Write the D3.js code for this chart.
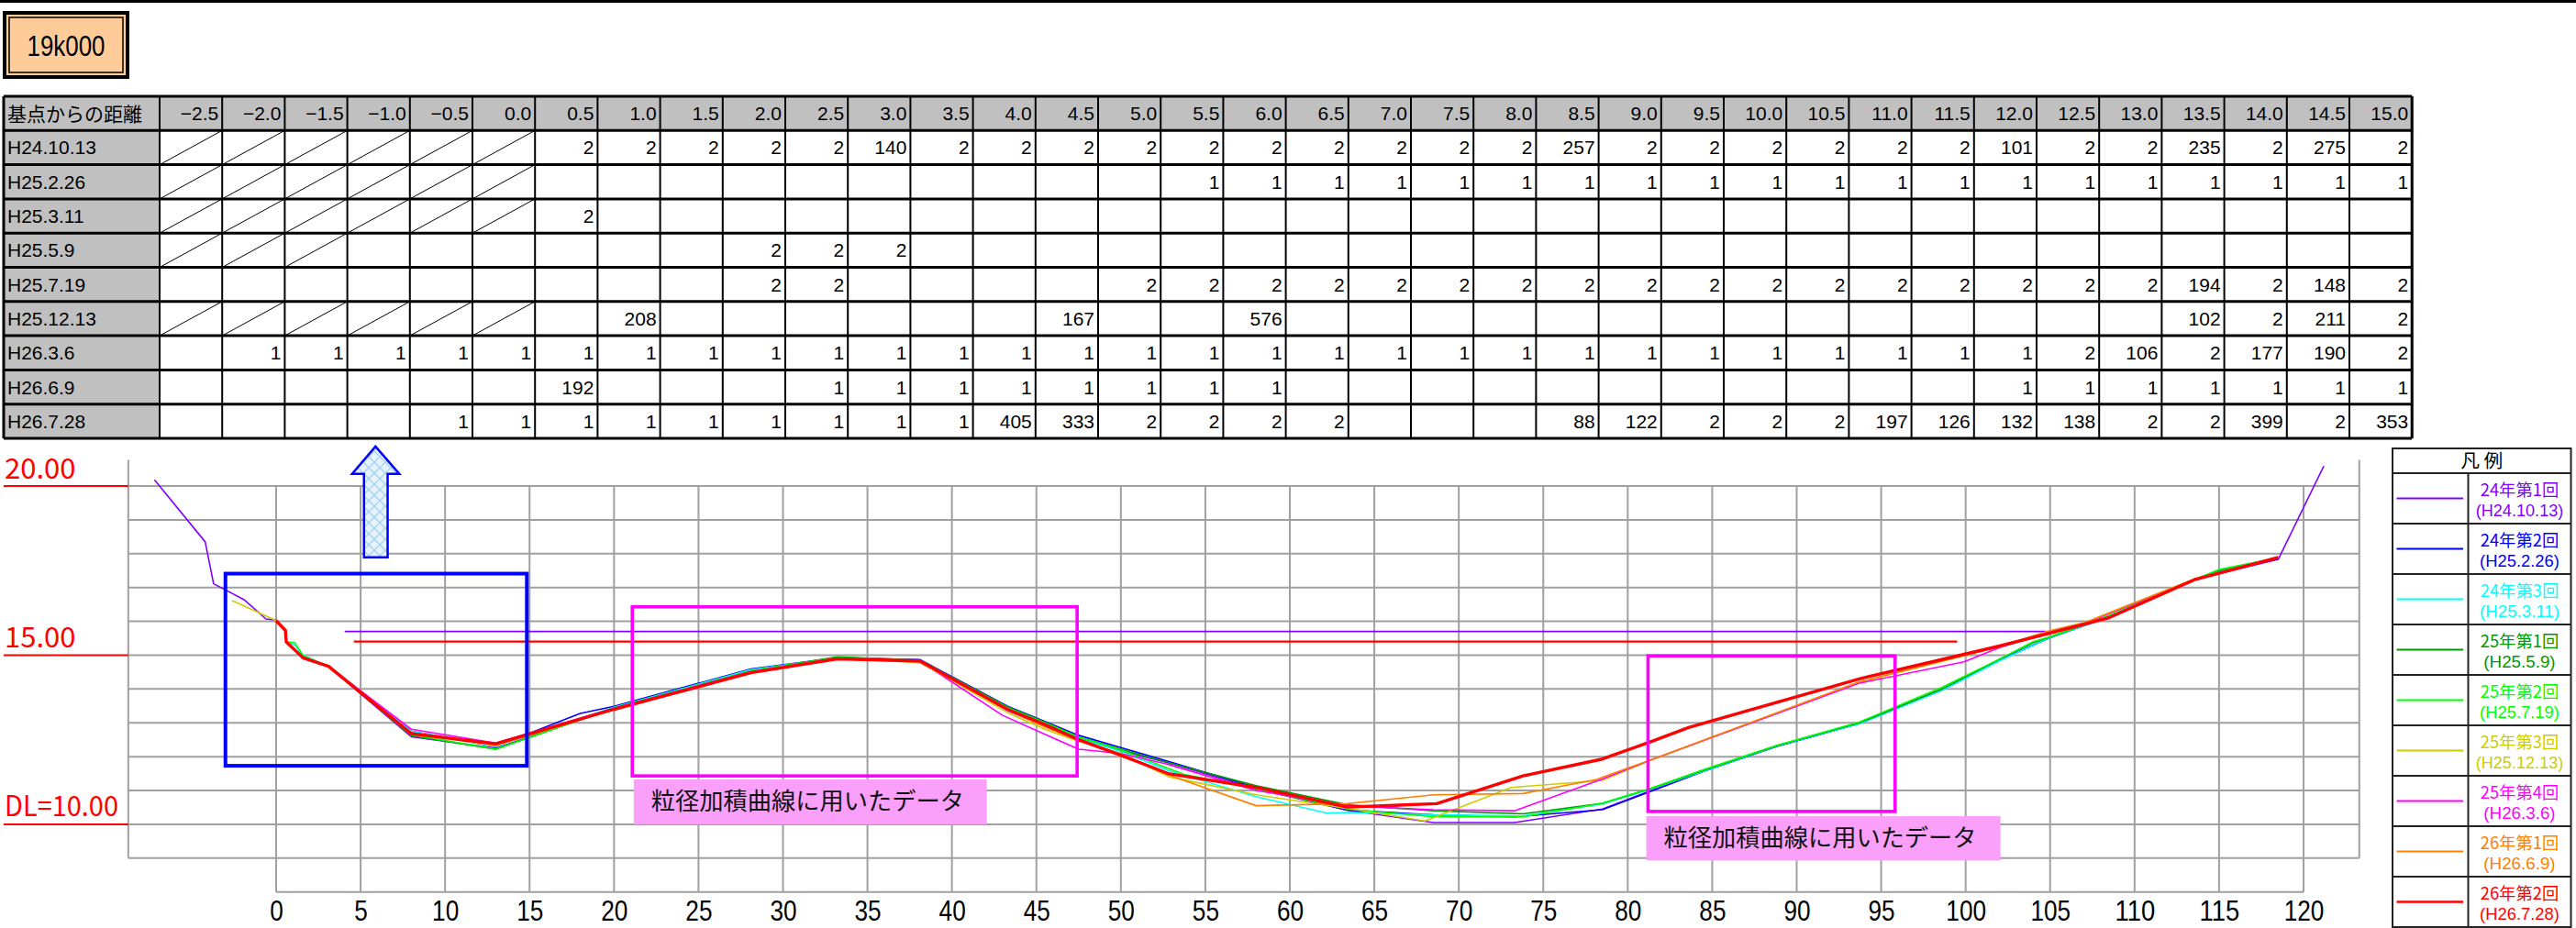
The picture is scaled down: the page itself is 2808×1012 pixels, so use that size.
<!DOCTYPE html>
<html>
<head>
<meta charset="utf-8">
<script src="https://cdn.jsdelivr.net/npm/d3@7"></script>
<style>
  body { margin: 0; background: #fff; }
  svg { display: block; }
</style>
</head>
<body>
<script>
'use strict'

// ------ Table data: distance from reference point / survey dates ------
const distLabels = ['−2.5', '−2.0', '−1.5', '−1.0', '−0.5', '0.0', '0.5', '1.0', '1.5', '2.0', '2.5', '3.0',
  '3.5', '4.0', '4.5', '5.0', '5.5', '6.0', '6.5', '7.0', '7.5', '8.0', '8.5', '9.0', '9.5', '10.0', '10.5',
  '11.0', '11.5', '12.0', '12.5', '13.0', '13.5', '14.0', '14.5', '15.0']
const surveyDates = ['H24.10.13', 'H25.2.26', 'H25.3.11', 'H25.5.9', 'H25.7.19', 'H25.12.13', 'H26.3.6', 'H26.6.9', 'H26.7.28']
// x = slashed cell, . = blank
const tableRows = [
  'x x x x x x 2 2 2 2 2 140 2 2 2 2 2 2 2 2 2 2 257 2 2 2 2 2 2 101 2 2 235 2 275 2',
  'x x x x x x . . . . . . . . . . 1 1 1 1 1 1 1 1 1 1 1 1 1 1 1 1 1 1 1 1',
  'x x x x x x 2 . . . . . . . . . . . . . . . . . . . . . . . . . . . . .',
  'x x x . . . . . . 2 2 2 . . . . . . . . . . . . . . . . . . . . . . . .',
  '. . . . . . . . . 2 2 . . . . 2 2 2 2 2 2 2 2 2 2 2 2 2 2 2 2 2 194 2 148 2',
  'x x x x x x . 208 . . . . . . 167 . . 576 . . . . . . . . . . . . . . 102 2 211 2',
  '. 1 1 1 1 1 1 1 1 1 1 1 1 1 1 1 1 1 1 1 1 1 1 1 1 1 1 1 1 1 2 106 2 177 190 2',
  '. . . . . . 192 . . . 1 1 1 1 1 1 1 1 . . . . . . . . . . . 1 1 1 1 1 1 1',
  '. . . . 1 1 1 1 1 1 1 1 1 405 333 2 2 2 2 . . . 88 122 2 2 2 197 126 132 138 2 2 399 2 353'
]

// ------ Cross section profiles [distance (m), elevation (m)] ------
const h241013 = [[-7.2, 20.18], [-4.2, 18.35], [-3.7, 17.11], [-1.9, 16.64], [-0.6, 16.07], [0, 16.04], [0.55, 15.75],
  [0.6, 15.4], [1.6, 14.9], [3.1, 14.66], [8.0, 12.59], [13.0, 12.25], [20.0, 13.43], [28.1, 14.53], [33.2, 14.92],
  [38.1, 14.85], [43.3, 13.36], [45.5, 12.9], [47.5, 12.55], [50.0, 12.17], [52.8, 11.82], [58.0, 11.05], [63.4, 10.42],
  [68.5, 10.05], [73.3, 10.05], [78.5, 10.45], [81.4, 11.0], [84.5, 11.57], [88.8, 12.3], [93.7, 12.98], [98.6, 13.97],
  [102.0, 14.85], [104.9, 15.5], [108.5, 16.14], [113.6, 17.24], [118.5, 17.83], [121.2, 20.59]]
const h250226 = [[0, 16.02], [0.55, 15.73], [0.6, 15.39], [1.6, 14.95], [3.1, 14.67], [8.0, 12.75], [13.0, 12.3],
  [18.0, 13.28], [20.0, 13.49], [28.1, 14.59], [33.2, 14.92], [38.1, 14.87], [43.3, 13.49], [45.5, 13.04], [47.5, 12.63],
  [50.0, 12.27], [52.8, 11.86], [58.0, 11.09], [63.4, 10.42], [68.5, 10.28], [73.3, 10.22], [78.5, 10.43], [81.4, 10.98],
  [84.5, 11.57], [88.8, 12.3], [93.7, 12.98], [98.6, 13.97], [102.0, 14.85], [104.9, 15.5], [108.5, 16.14],
  [113.6, 17.24], [115.0, 17.48], [118.5, 17.85]]
const h250311 = [[0, 16.02], [0.55, 15.73], [0.6, 15.39], [1.1, 15.3], [1.6, 15.0], [3.1, 14.67], [8.0, 12.75],
  [13.0, 12.3], [20.0, 13.46], [28.1, 14.57], [33.2, 14.92], [38.1, 14.85], [43.3, 13.42], [45.5, 12.95], [47.5, 12.55],
  [50.0, 12.15], [52.8, 11.59], [58.0, 10.82], [62.2, 10.33], [63.4, 10.35], [68.5, 10.28], [73.8, 10.25], [78.5, 10.6],
  [81.4, 11.05], [84.5, 11.57], [88.8, 12.31], [93.7, 12.97], [98.6, 13.96], [102.0, 14.83], [104.9, 15.5],
  [108.5, 16.14], [113.6, 17.24], [115.0, 17.5], [118.5, 17.87]]
const h250509 = [[0, 16.02], [0.55, 15.73], [0.6, 15.39], [1.6, 14.92], [3.1, 14.67], [8.0, 12.62], [13.0, 12.22],
  [20.0, 13.44], [28.1, 14.53], [33.2, 14.95], [38.1, 14.85], [43.3, 13.47], [45.5, 13.02], [47.5, 12.58], [50.0, 12.22],
  [52.8, 11.82], [58.0, 11.14], [63.4, 10.58], [68.5, 10.4], [73.8, 10.31], [78.5, 10.62], [81.4, 11.06], [84.5, 11.6],
  [88.8, 12.32], [93.7, 13.0], [98.6, 14.0], [102.0, 14.88], [104.0, 15.37], [104.9, 15.52], [108.5, 16.16],
  [113.6, 17.24], [115.0, 17.51], [118.5, 17.88]]
const h250719 = [[0, 16.02], [0.55, 15.73], [0.6, 15.39], [1.1, 15.37], [1.6, 14.98], [3.1, 14.67], [8.0, 12.65],
  [13.0, 12.22], [20.0, 13.44], [28.1, 14.54], [33.2, 14.93], [38.1, 14.84], [43.3, 13.45], [45.5, 13.0], [47.5, 12.58],
  [50.0, 12.2], [53.7, 11.48], [58.0, 11.05], [63.4, 10.45], [68.5, 10.22], [73.8, 10.22], [78.5, 10.62], [81.4, 11.07],
  [84.5, 11.62], [88.8, 12.33], [93.7, 13.02], [98.6, 14.05], [102.0, 14.88], [104.0, 15.4], [104.9, 15.53],
  [108.5, 16.17], [113.6, 17.25], [115.0, 17.53], [118.5, 17.88]]
const h251213 = [[-2.6, 16.61], [0, 16.02], [0.55, 15.73], [0.6, 15.39], [1.6, 14.92], [3.1, 14.67], [8.0, 12.7],
  [13.0, 12.33], [20.0, 13.41], [28.1, 14.5], [33.2, 14.9], [38.1, 14.8], [43.3, 13.3], [45.5, 12.81], [47.5, 12.45],
  [50.0, 12.1], [52.8, 11.41], [58.0, 10.87], [63.4, 10.47], [68.0, 10.1], [73.1, 11.09], [78.5, 11.3], [81.4, 11.9],
  [93.7, 14.19], [102.0, 15.25], [104.9, 15.71], [107.1, 15.97], [113.6, 17.26], [118.5, 17.9]]
const h260306 = [[0, 16.02], [0.55, 15.73], [0.6, 15.39], [1.6, 14.92], [3.1, 14.67], [8.0, 12.81], [13.0, 12.4],
  [20.0, 13.43], [28.1, 14.52], [33.2, 14.91], [38.1, 14.83], [43.0, 13.22], [45.5, 12.66], [47.5, 12.22], [50.0, 12.09],
  [52.8, 11.77], [58.0, 11.0], [63.4, 10.55], [68.5, 10.43], [73.3, 10.4], [78.5, 11.34], [81.4, 11.91], [93.7, 14.17],
  [99.9, 14.8], [102.0, 15.22], [104.9, 15.68], [107.1, 15.95], [113.6, 17.24], [118.5, 17.88]]
const h260609 = [[0, 16.02], [0.55, 15.73], [0.6, 15.39], [1.6, 14.92], [3.1, 14.67], [8.0, 12.7], [13.0, 12.33],
  [20.0, 13.4], [28.1, 14.5], [33.2, 14.9], [38.1, 14.78], [43.3, 13.38], [45.5, 12.88], [47.5, 12.48], [50.0, 12.08],
  [52.8, 11.46], [58.0, 10.55], [63.4, 10.61], [68.5, 10.87], [73.8, 10.91], [78.1, 11.32], [81.4, 11.91], [93.7, 14.21],
  [102.0, 15.25], [104.9, 15.71], [107.1, 15.97], [113.6, 17.26], [118.5, 17.9]]
const h260728 = [[0, 16.02], [0.55, 15.73], [0.6, 15.39], [1.6, 14.92], [3.1, 14.67], [8.0, 12.68], [13.0, 12.38],
  [20.0, 13.4], [28.1, 14.48], [33.2, 14.89], [38.1, 14.83], [43.3, 13.4], [45.5, 12.95], [47.5, 12.5], [50.0, 12.04],
  [52.8, 11.5], [58.0, 11.09], [63.4, 10.51], [68.7, 10.61], [73.8, 11.43], [78.5, 11.93], [81.4, 12.45], [83.6, 12.86],
  [93.7, 14.3], [102.0, 15.27], [104.9, 15.64], [108.5, 16.11], [113.6, 17.24], [115.0, 17.42], [118.5, 17.89]]

const profiles = [h241013, h250226, h250311, h250509, h250719, h251213, h260306, h260609, h260728]
const seriesColors = ['#8000ff', '#0000ff', '#00ffff', '#009900', '#00ff00', '#cccc00', '#ff00ff', '#ff8000', '#ff0000']
const legendTitles = ['24年第1回', '24年第2回', '24年第3回', '25年第1回', '25年第2回', '25年第3回', '25年第4回', '26年第1回', '26年第2回']

// water level lines [from, to, elevation]
const waterLevels = [[4.06, 104.8, 15.70], [4.6, 99.5, 15.40]]
const waterColors = ['#8000ff', '#ff0000']

// axis ticks and labels
const xTicks = d3.range(0, 121, 5)
const yGridValues = d3.range(9, 21, 1)
const yLabelValues = [20, 15, 10]
const yLabelTexts = ['20.00', '15.00', 'DL=10.00']

// annotation boxes [x0, x1, y0, y1] in chart units
const blueBox = [-3.0, 14.84, 11.73, 17.41]
const pinkBoxes = [[21.08, 47.41, 11.43, 16.43], [81.2, 95.82, 10.38, 14.98]]
const noteBoxes = [[21.17, 42.06, 10.0, 11.33], [81.1, 102.06, 8.93, 10.24]]
const noteText = '粒径加積曲線に用いたデータ'

const W = 2808
const H = 1012
const JP = '"Noto Sans CJK JP", "Noto Sans", sans-serif'
const LAT = '"Liberation Sans", Arial, sans-serif'

// width of a string in a half-width/full-width gothic face
function gothicLen (s, fs) {
  let w = 0
  for (const ch of s) w += ch.charCodeAt(0) < 256 ? 0.5 : 1
  return w * fs
}

const svg = d3.select('body').append('svg')
  .attr('width', W).attr('height', H)
  .attr('font-family', LAT)

// ------ top rule and title box ------
svg.append('line').attr('x1', 0).attr('x2', W).attr('y1', 1.5).attr('y2', 1.5)
  .attr('stroke', '#000').attr('stroke-width', 3)

svg.append('rect').attr('x', 5).attr('y', 14).attr('width', 134).attr('height', 70)
  .attr('fill', '#ffcc99').attr('stroke', '#000').attr('stroke-width', 4)
svg.append('rect').attr('x', 10).attr('y', 19).attr('width', 124).attr('height', 60)
  .attr('fill', 'none').attr('stroke', '#000').attr('stroke-width', 1.5)
svg.append('text').attr('x', 72).attr('y', 61).attr('text-anchor', 'middle')
  .attr('font-size', 32).attr('textLength', 85).attr('lengthAdjust', 'spacingAndGlyphs')
  .text('19k000')

// ------ data table ------
const tLeft = 4
const tTop = 105
const rowH = 37.3
const headW = 170
const colW = 68.2
const tRight = tLeft + headW + distLabels.length * colW
const nRows = surveyDates.length + 1
const table = svg.append('g')

table.append('rect').attr('x', tLeft).attr('y', tTop).attr('width', tRight - tLeft).attr('height', rowH)
  .attr('fill', '#c0c0c0')
table.append('rect').attr('x', tLeft).attr('y', tTop).attr('width', headW).attr('height', nRows * rowH)
  .attr('fill', '#c0c0c0')

const colX = i => tLeft + headW + i * colW
const rowY = r => tTop + r * rowH

table.append('text').attr('x', tLeft + 4).attr('y', rowY(0) + rowH / 2 + 8)
  .attr('font-family', JP).attr('font-size', 21).text('基点からの距離')

table.selectAll('text.dist').data(distLabels).join('text')
  .attr('class', 'dist')
  .attr('x', (d, i) => colX(i + 1) - 4)
  .attr('y', rowY(0) + rowH / 2 + 7.5)
  .attr('text-anchor', 'end').attr('font-size', 21)
  .text(d => d)

surveyDates.forEach((date, r) => {
  const top = rowY(r + 1)
  table.append('text').attr('x', tLeft + 4).attr('y', top + rowH / 2 + 7.5)
    .attr('font-size', 21).text(date)
  const cells = tableRows[r].split(' ')
  cells.forEach((c, i) => {
    if (c === 'x') {
      table.append('line')
        .attr('x1', colX(i)).attr('y1', top + rowH)
        .attr('x2', colX(i + 1)).attr('y2', top)
        .attr('stroke', '#000').attr('stroke-width', 1)
    } else if (c !== '.') {
      table.append('text').attr('x', colX(i + 1) - 4).attr('y', top + rowH / 2 + 7.5)
        .attr('text-anchor', 'end').attr('font-size', 21).text(c)
    }
  })
})

// table rules
d3.range(distLabels.length + 1).forEach(i => {
  table.append('line').attr('x1', colX(i)).attr('x2', colX(i))
    .attr('y1', tTop).attr('y2', rowY(nRows))
    .attr('stroke', '#000').attr('stroke-width', 2)
})
table.append('line').attr('x1', tLeft).attr('x2', tLeft).attr('y1', tTop).attr('y2', rowY(nRows))
  .attr('stroke', '#000').attr('stroke-width', 3)
table.append('line').attr('x1', tRight).attr('x2', tRight).attr('y1', tTop).attr('y2', rowY(nRows))
  .attr('stroke', '#000').attr('stroke-width', 3)
d3.range(nRows + 1).forEach(r => {
  table.append('line').attr('x1', tLeft).attr('x2', tRight)
    .attr('y1', rowY(r)).attr('y2', rowY(r))
    .attr('stroke', '#000').attr('stroke-width', 3)
})

// ------ cross section chart ------
const x = d3.scaleLinear().domain([0, 120]).range([301, 2511])
const y = d3.scaleLinear().domain([8, 20]).range([972.7, 530])
const xMin = -8.75
const xMax = 123.3
const chart = svg.append('g')
const gridColor = '#a0a0a0'

// horizontal grid
chart.selectAll('line.hgrid').data(yGridValues).join('line')
  .attr('class', 'hgrid')
  .attr('x1', x(xMin)).attr('x2', x(xMax))
  .attr('y1', d => y(d)).attr('y2', d => y(d))
  .attr('stroke', gridColor).attr('stroke-width', 2)
chart.append('line').attr('x1', x(0)).attr('x2', x(120)).attr('y1', y(8)).attr('y2', y(8))
  .attr('stroke', gridColor).attr('stroke-width', 2)
// vertical grid
chart.selectAll('line.vgrid').data(xTicks).join('line')
  .attr('class', 'vgrid')
  .attr('x1', d => x(d)).attr('x2', d => x(d))
  .attr('y1', y(20)).attr('y2', y(8))
  .attr('stroke', gridColor).attr('stroke-width', 2)
// side frame
;[xMin, xMax].forEach(v => {
  chart.append('line').attr('x1', x(v)).attr('x2', x(v)).attr('y1', y(20.77)).attr('y2', y(9))
    .attr('stroke', gridColor).attr('stroke-width', 2)
})

// elevation labels with red rules
yLabelValues.forEach((v, i) => {
  chart.append('line').attr('x1', 4).attr('x2', x(xMin)).attr('y1', y(v)).attr('y2', y(v))
    .attr('stroke', '#ff0000').attr('stroke-width', 2)
  chart.append('text').attr('x', 5).attr('y', y(v) - 8.5)
    .attr('font-family', JP).attr('font-size', 31).attr('fill', '#ff0000')
    .attr('textLength', gothicLen(yLabelTexts[i], 31)).attr('lengthAdjust', 'spacingAndGlyphs')
    .text(yLabelTexts[i])
})

// x axis labels
const gx = chart.append('g')
  .attr('transform', `translate(0,${y(8)})`)
  .call(d3.axisBottom(x).tickValues(xTicks).tickSize(0).tickPadding(9))
gx.select('.domain').remove()
gx.selectAll('text')
  .attr('font-family', LAT).attr('font-size', 31).attr('fill', '#000')
  .attr('textLength', d => gothicLen(String(d), 31) * 0.94).attr('lengthAdjust', 'spacingAndGlyphs')

// water levels
waterLevels.forEach((w, i) => {
  chart.append('line').attr('x1', x(w[0])).attr('x2', x(w[1])).attr('y1', y(w[2])).attr('y2', y(w[2]))
    .attr('stroke', waterColors[i]).attr('stroke-width', i === 1 ? 2.2 : 1.6)
})

// profiles
const renderPath = d3.line()
  .x(function (d) { return x(d[0]) })
  .y(function (d) { return y(d[1]) })

profiles.forEach((p, i) => {
  chart.append('path').datum(p)
    .attr('d', renderPath)
    .attr('fill', 'none')
    .attr('stroke', seriesColors[i])
    .attr('stroke-width', i === 8 ? 3.4 : 1.6)
    .attr('stroke-linejoin', 'round')
})

// annotation boxes
const boxRect = (b) => ({ x: x(b[0]), y: y(b[3]), w: x(b[1]) - x(b[0]), h: y(b[2]) - y(b[3]) })
{
  const r = boxRect(blueBox)
  chart.append('rect').attr('x', r.x).attr('y', r.y).attr('width', r.w).attr('height', r.h)
    .attr('fill', 'none').attr('stroke', '#0000ff').attr('stroke-width', 4)
}
pinkBoxes.forEach(b => {
  const r = boxRect(b)
  chart.append('rect').attr('x', r.x).attr('y', r.y).attr('width', r.w).attr('height', r.h)
    .attr('fill', 'none').attr('stroke', '#ff00ff').attr('stroke-width', 3.6)
})
noteBoxes.forEach(b => {
  const r = boxRect(b)
  chart.append('rect').attr('x', r.x).attr('y', r.y).attr('width', r.w).attr('height', r.h)
    .attr('fill', '#fa9ffa')
  chart.append('text').attr('x', r.x + 19).attr('y', r.y + r.h / 2 + 9)
    .attr('font-family', JP).attr('font-size', 26).attr('fill', '#111')
    .attr('textLength', 341).attr('lengthAdjust', 'spacingAndGlyphs')
    .text(noteText)
})

// upward arrow with cross hatch
const defs = svg.append('defs')
const pat = defs.append('pattern').attr('id', 'hatch').attr('patternUnits', 'userSpaceOnUse')
  .attr('width', 12).attr('height', 12)
pat.append('rect').attr('width', 12).attr('height', 12).attr('fill', '#e6f3fc')
pat.append('path').attr('d', 'M0,0L12,12M12,0L0,12').attr('stroke', '#a6d4f2').attr('stroke-width', 1.4)
const arrowPts = [[5.88, 21.17], [7.29, 20.36], [6.6, 20.36], [6.6, 17.89], [5.2, 17.89], [5.2, 20.36], [4.5, 20.36]]
chart.append('polygon')
  .attr('points', arrowPts.map(p => [x(p[0]), y(p[1])].join(',')).join(' '))
  .attr('fill', 'url(#hatch)').attr('stroke', '#0000ff').attr('stroke-width', 2.5)

// ------ legend ------
const lgX = 2608
const lgY = 489
const lgW = 194.5
const lgHead = 27
const lgRowH = 55
const lgCol = 82.5
const legend = svg.append('g')
const lgBottom = lgY + lgHead + legendTitles.length * lgRowH

legend.append('text').attr('x', lgX + lgW / 2).attr('y', lgY + lgHead / 2 + 7)
  .attr('text-anchor', 'middle').attr('font-family', JP).attr('font-size', 20)
  .attr('textLength', 46).attr('lengthAdjust', 'spacingAndGlyphs')
  .text('凡 例')

legendTitles.forEach((t, i) => {
  const top = lgY + lgHead + i * lgRowH
  legend.append('line').attr('x1', lgX + 4.5).attr('x2', lgX + 77)
    .attr('y1', top + lgRowH / 2).attr('y2', top + lgRowH / 2)
    .attr('stroke', seriesColors[i]).attr('stroke-width', i === 8 ? 2.6 : 1.8)
  const cx = lgX + lgCol + (lgW - lgCol) / 2
  const sub = '(' + surveyDates[i] + ')'
  legend.append('text').attr('x', cx).attr('y', top + 25)
    .attr('text-anchor', 'middle').attr('font-family', JP).attr('font-size', 18.5)
    .attr('fill', seriesColors[i])
    .attr('textLength', gothicLen(t, 19)).attr('lengthAdjust', 'spacingAndGlyphs')
    .text(t)
  legend.append('text').attr('x', cx).attr('y', top + 47)
    .attr('text-anchor', 'middle').attr('font-family', LAT).attr('font-size', 18.5)
    .attr('fill', seriesColors[i])
    .attr('textLength', gothicLen(sub, 18.5) * 0.94).attr('lengthAdjust', 'spacingAndGlyphs')
    .text(sub)
})

d3.range(legendTitles.length + 1).forEach(i => {
  const yy = lgY + lgHead + i * lgRowH
  legend.append('line').attr('x1', lgX).attr('x2', lgX + lgW).attr('y1', yy).attr('y2', yy)
    .attr('stroke', '#222').attr('stroke-width', 2)
})
legend.append('line').attr('x1', lgX + lgCol).attr('x2', lgX + lgCol)
  .attr('y1', lgY + lgHead).attr('y2', lgBottom).attr('stroke', '#222').attr('stroke-width', 2)
legend.append('rect').attr('x', lgX).attr('y', lgY).attr('width', lgW).attr('height', lgBottom - lgY)
  .attr('fill', 'none').attr('stroke', '#222').attr('stroke-width', 2)
</script>
</body>
</html>
